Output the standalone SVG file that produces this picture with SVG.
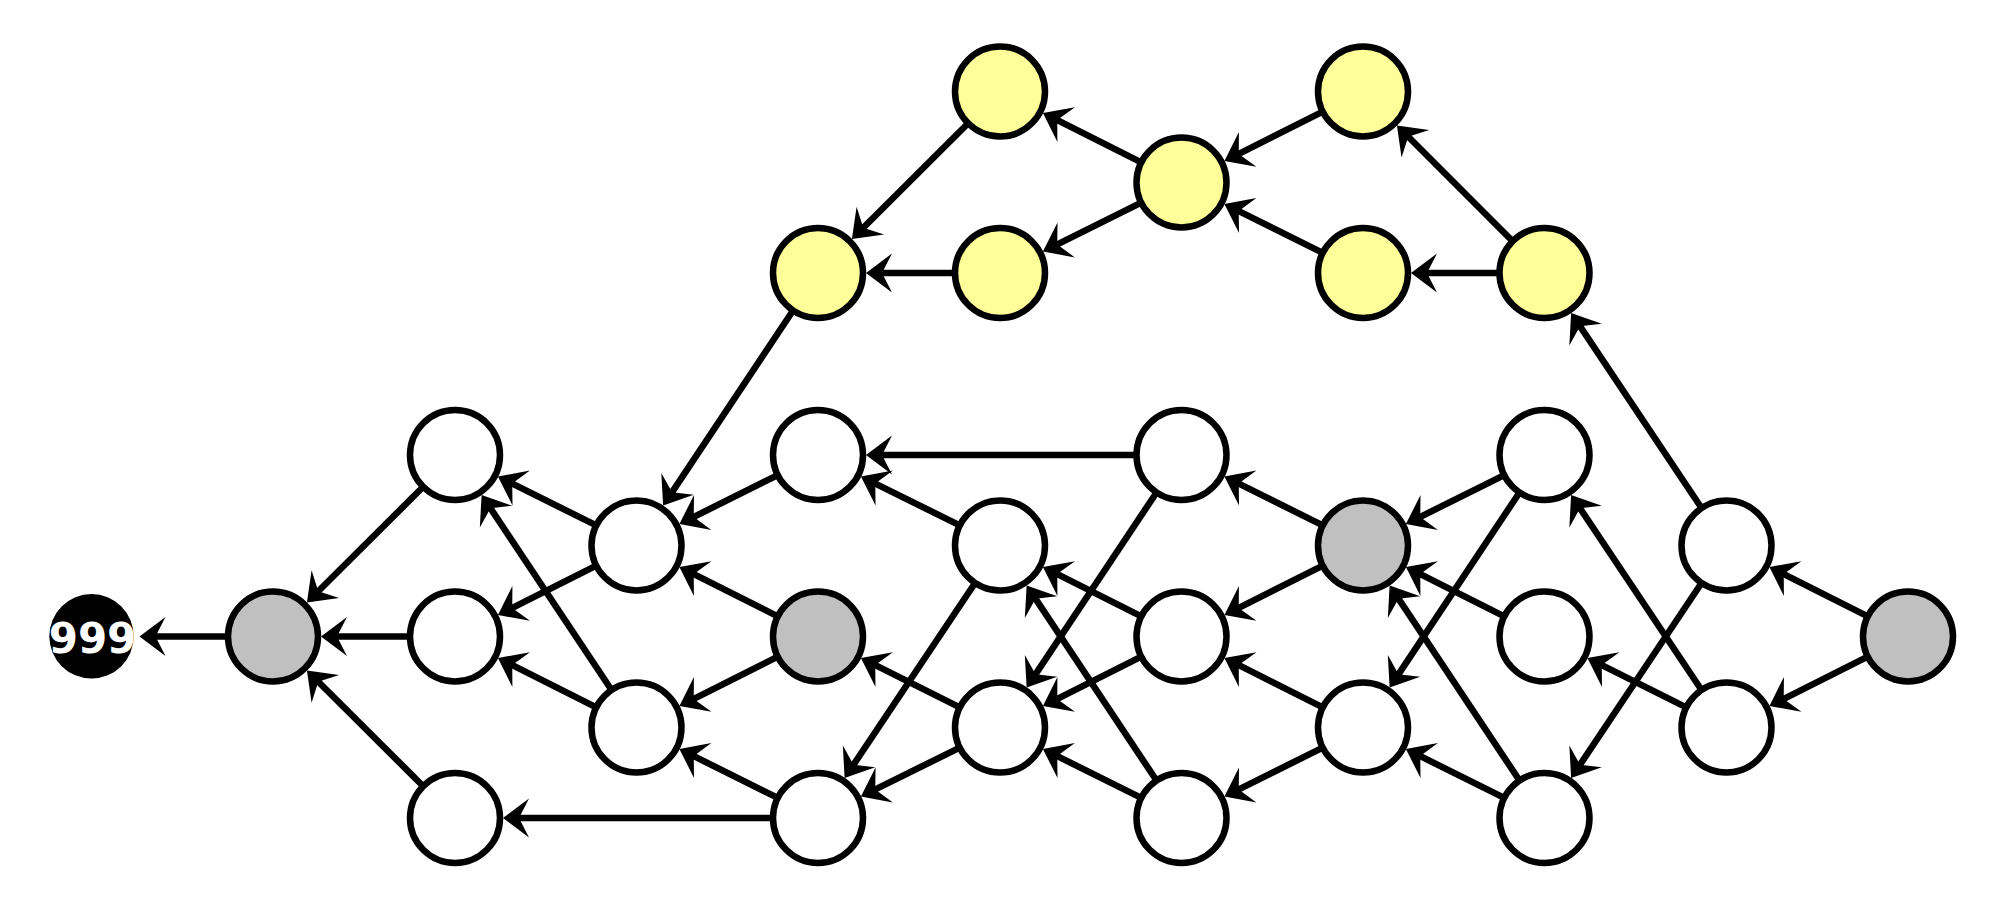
<svg xmlns="http://www.w3.org/2000/svg" width="2000" height="910" viewBox="0 0 2000 910">
<style>
.n circle{stroke:#000;stroke-width:6.5}
.w{fill:#fff}.g{fill:#c0c0c0}.y{fill:#ffff99}
.e line{stroke:#000;stroke-width:6.5;marker-end:url(#ah)}
.lbl{font-family:"DejaVu Sans",sans-serif;font-weight:bold;font-size:42px;fill:#fff}
</style>
<defs>
<marker id="ah" markerUnits="userSpaceOnUse" viewBox="-12 -21 28 42" refX="0" refY="0" markerWidth="28" markerHeight="42" orient="auto" overflow="visible">
<path d="M15,0 L-11,-19.5 L-1,0 L-11,19.5 Z" fill="#000"/>
</marker>
</defs>
<rect width="2000" height="910" fill="#fff"/>
<g id="edges" class="e">
<line x1="228" y1="636.5" x2="154.5" y2="636.5"/>
<line x1="423.18" y1="486.82" x2="317.55" y2="591.95"/>
<line x1="410" y1="636.5" x2="336" y2="636.5"/>
<line x1="423.18" y1="786.18" x2="317.55" y2="681.05"/>
<line x1="596.25" y1="525.38" x2="511.35" y2="483.17"/>
<line x1="596.25" y1="565.62" x2="511.35" y2="608.33"/>
<line x1="611.54" y1="690.06" x2="489.95" y2="507.42"/>
<line x1="596.25" y1="707.38" x2="511.35" y2="664.67"/>
<line x1="777.75" y1="475.12" x2="692.85" y2="517.33"/>
<line x1="777.75" y1="616.38" x2="692.85" y2="573.67"/>
<line x1="793.04" y1="310.44" x2="671.45" y2="493.08"/>
<line x1="777.75" y1="656.62" x2="692.85" y2="699.33"/>
<line x1="777.75" y1="797.88" x2="692.85" y2="755.67"/>
<line x1="773" y1="818" x2="518" y2="818"/>
<line x1="959.75" y1="525.38" x2="874.35" y2="483.17"/>
<line x1="1136.5" y1="455" x2="881" y2="455"/>
<line x1="959.75" y1="707.38" x2="874.35" y2="664.67"/>
<line x1="975.04" y1="582.94" x2="852.95" y2="765.58"/>
<line x1="959.75" y1="747.62" x2="874.35" y2="789.83"/>
<line x1="1141.25" y1="616.38" x2="1056.35" y2="573.67"/>
<line x1="1156.54" y1="780.56" x2="1034.95" y2="597.92"/>
<line x1="1156.54" y1="492.44" x2="1034.95" y2="675.08"/>
<line x1="1141.25" y1="656.62" x2="1056.35" y2="699.33"/>
<line x1="1141.25" y1="797.88" x2="1056.35" y2="755.67"/>
<line x1="1322.75" y1="525.38" x2="1237.85" y2="483.17"/>
<line x1="1322.75" y1="565.62" x2="1237.85" y2="608.33"/>
<line x1="1322.75" y1="707.38" x2="1237.85" y2="664.67"/>
<line x1="1322.75" y1="747.62" x2="1237.85" y2="789.83"/>
<line x1="1504.25" y1="475.12" x2="1419.35" y2="517.33"/>
<line x1="1519.54" y1="492.44" x2="1397.95" y2="675.08"/>
<line x1="1504.25" y1="616.38" x2="1419.35" y2="573.67"/>
<line x1="1519.54" y1="780.56" x2="1397.95" y2="597.92"/>
<line x1="1504.25" y1="797.88" x2="1419.35" y2="755.67"/>
<line x1="1701.54" y1="582.94" x2="1579.45" y2="765.58"/>
<line x1="1701.54" y1="690.06" x2="1579.45" y2="507.42"/>
<line x1="1686.25" y1="707.38" x2="1600.85" y2="664.67"/>
<line x1="1701.54" y1="508.06" x2="1579.45" y2="325.42"/>
<line x1="1867.75" y1="616.38" x2="1782.85" y2="573.67"/>
<line x1="1867.75" y1="656.62" x2="1782.85" y2="699.33"/>
<line x1="968.18" y1="123.32" x2="862.55" y2="228.45"/>
<line x1="955" y1="273" x2="881" y2="273"/>
<line x1="1141.25" y1="162.38" x2="1056.35" y2="119.67"/>
<line x1="1141.25" y1="202.62" x2="1056.35" y2="244.83"/>
<line x1="1322.75" y1="111.62" x2="1237.85" y2="154.33"/>
<line x1="1322.75" y1="252.88" x2="1237.85" y2="210.67"/>
<line x1="1512.68" y1="241.18" x2="1407.55" y2="136.05"/>
<line x1="1499.5" y1="273" x2="1426" y2="273"/>
</g>
<g id="A"><circle cx="91.5" cy="636.3" r="42.2" fill="#000"/><text class="lbl" x="92.5" y="652.5" text-anchor="middle">999</text></g>
<g class="n">
<g id="B"><circle class="g" cx="273" cy="636.5" r="45"/></g>
<g id="C1"><circle class="w" cx="455" cy="455" r="45"/></g>
<g id="C2"><circle class="w" cx="455" cy="636.5" r="45"/></g>
<g id="C3"><circle class="w" cx="455" cy="818" r="45"/></g>
<g id="D1"><circle class="w" cx="636.5" cy="545.5" r="45"/></g>
<g id="D2"><circle class="w" cx="636.5" cy="727.5" r="45"/></g>
<g id="E1"><circle class="w" cx="818" cy="455" r="45"/></g>
<g id="E2"><circle class="g" cx="818" cy="636.5" r="45"/></g>
<g id="E3"><circle class="w" cx="818" cy="818" r="45"/></g>
<g id="F1"><circle class="w" cx="1000" cy="545.5" r="45"/></g>
<g id="F2"><circle class="w" cx="1000" cy="727.5" r="45"/></g>
<g id="G1"><circle class="w" cx="1181.5" cy="455" r="45"/></g>
<g id="G2"><circle class="w" cx="1181.5" cy="636.5" r="45"/></g>
<g id="G3"><circle class="w" cx="1181.5" cy="818" r="45"/></g>
<g id="H1"><circle class="g" cx="1363" cy="545.5" r="45"/></g>
<g id="H2"><circle class="w" cx="1363" cy="727.5" r="45"/></g>
<g id="I1"><circle class="w" cx="1544.5" cy="455" r="45"/></g>
<g id="I2"><circle class="w" cx="1544.5" cy="636.5" r="45"/></g>
<g id="I3"><circle class="w" cx="1544.5" cy="818" r="45"/></g>
<g id="J1"><circle class="w" cx="1726.5" cy="545.5" r="45"/></g>
<g id="J2"><circle class="w" cx="1726.5" cy="727.5" r="45"/></g>
<g id="K"><circle class="g" cx="1908" cy="636.5" r="45"/></g>
<g id="Y1"><circle class="y" cx="818" cy="273" r="45"/></g>
<g id="Y2"><circle class="y" cx="1000" cy="91.5" r="45"/></g>
<g id="Y3"><circle class="y" cx="1000" cy="273" r="45"/></g>
<g id="Y4"><circle class="y" cx="1181.5" cy="182.5" r="45"/></g>
<g id="Y5"><circle class="y" cx="1363" cy="91.5" r="45"/></g>
<g id="Y6"><circle class="y" cx="1363" cy="273" r="45"/></g>
<g id="Y7"><circle class="y" cx="1544.5" cy="273" r="45"/></g>
</g>
</svg>
